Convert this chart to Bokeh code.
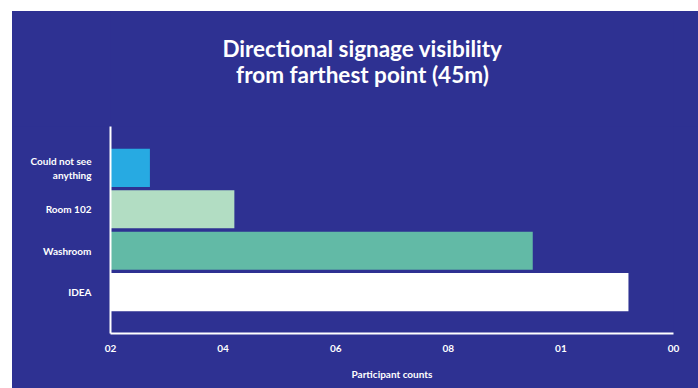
from bokeh.plotting import figure
from bokeh.models import FixedTicker, Range1d, FactorRange
from bokeh.layouts import column
from bokeh.core.properties import value
from bokeh.embed import file_html
from bokeh.resources import INLINE

categories = ["IDEA", "Washroom", "Room 102", "Could not see\nanything"]
counts = [92, 75, 22, 7]
colors = ["#FFFFFF", "#62BAA6", "#B2DDC3", "#27AAE2"]
tick_values = [0, 20, 40, 60, 80, 100]
tick_labels = ["02", "04", "06", "08", "01", "00"]
title_lines = ["Directional signage visibility", "from farthest point (45m)"]

BG = "#2E3192"
FONT = "Lato"

# --- title strip ---
tp = figure(
    width=686, height=115,
    x_range=Range1d(0, 686), y_range=Range1d(0, 115),
    x_axis_location=None, y_axis_location=None,
    output_backend="svg", toolbar_location=None,
    min_border=0,
)
tp.grid.visible = False
tp.outline_line_color = None
tp.background_fill_color = BG
tp.border_fill_color = BG
tp.text(x=[307, 307], y=[78, 52], text=title_lines,
        text_align="center", text_baseline="alphabetic",
        text_color="white", text_font=value(FONT), text_font_style="bold",
        text_font_size="22.5px")

# --- chart ---
p = figure(
    width=686, height=262,
    y_range=FactorRange(factors=categories, range_padding=0.25, range_padding_units="percent"),
    x_range=Range1d(0, 100),
    output_backend="svg", toolbar_location=None,
    min_border_left=98, min_border_right=25, min_border_top=0, min_border_bottom=55,
)
p.background_fill_color = BG
p.border_fill_color = BG
p.outline_line_color = None
p.xgrid.visible = False
p.ygrid.visible = False

p.hbar(y=categories, right=counts, left=0, height=0.92, color=colors, line_color=None)

for ax in (p.xaxis[0], p.yaxis[0]):
    ax.axis_line_color = "white"
    ax.axis_line_width = 2
    ax.major_tick_line_color = None
    ax.minor_tick_line_color = None
    ax.major_label_text_color = "white"
    ax.major_label_text_font = FONT
    ax.major_label_text_font_style = "bold"
    ax.major_label_text_font_size = "10px"

p.xaxis.ticker = FixedTicker(ticks=tick_values)
p.xaxis.major_label_overrides = {v: t for v, t in zip(tick_values, tick_labels)}
p.xaxis.major_label_standoff = 5
p.xaxis.axis_label = "Participant counts"
p.xaxis.axis_label_text_color = "white"
p.xaxis.axis_label_text_font = FONT
p.xaxis.axis_label_text_font_style = "bold"
p.xaxis.axis_label_text_font_size = "10px"
p.xaxis.axis_label_standoff = 13
p.yaxis.major_label_standoff = 13

layout = column(tp, p, spacing=0)
layout.margin = (11, 0, 0, 12)
layout.styles = {"background-color": BG}

open("out.html", "w").write(file_html(layout, INLINE))
